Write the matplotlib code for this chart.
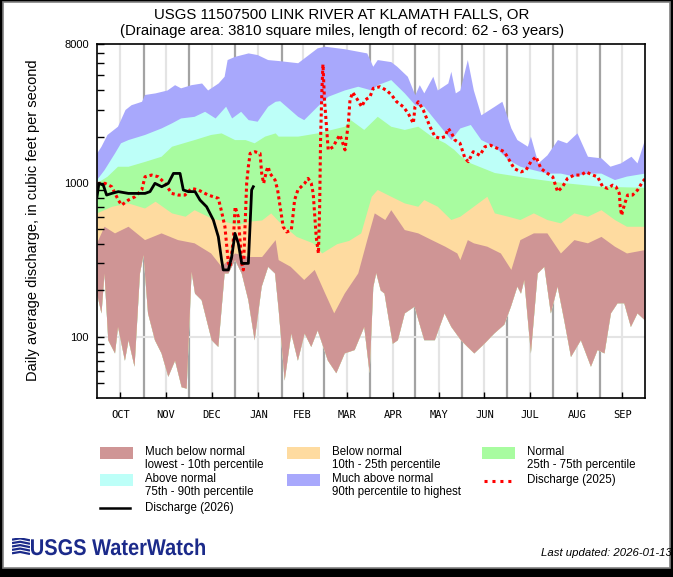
import matplotlib
matplotlib.use("Agg")
import matplotlib.pyplot as plt
from matplotlib.patches import Rectangle, PathPatch
from matplotlib.lines import Line2D
from matplotlib.textpath import TextPath
from matplotlib.font_manager import FontProperties
from matplotlib.transforms import Affine2D
from matplotlib.ticker import FixedLocator, NullFormatter
import numpy as np

plt.rcParams["font.family"] = ["Liberation Sans", "DejaVu Sans"]

# day of water year (0 = Oct 1) and daily discharge percentiles, cfs
max_days = [0, 3, 7, 14, 19, 23, 30, 32, 39, 47, 52, 56, 63, 70, 74, 81, 85, 87, 92, 101,
            107, 114, 121, 134, 147, 152, 165, 180, 184, 187, 196, 200, 207, 212, 215, 218, 224, 227, 234, 236,
            239, 242, 247, 251, 256, 265, 270, 276, 280, 287, 289, 294, 300, 307, 313, 320, 327, 336, 342, 349,
            356, 360, 365]
max_cfs = [1550, 1720, 2050, 2320, 2980, 3200, 3370, 3730, 3820, 3990, 4320, 4120, 4320, 4430, 3990, 4430, 4900, 6290, 6600, 6950,
           6780, 6290, 6200, 6000, 7500, 7680, 7400, 6950, 5690, 6290, 6100, 5690, 4900, 3720, 4320, 3820, 4900, 3990, 4430, 5280,
           3820, 3990, 6290, 3990, 2750, 3130, 3370, 2260, 1900, 1720, 2000, 1340, 1510, 1900, 1810, 2100, 1480, 1445, 1275, 1340,
           1480, 1340, 1900]

p90_days = [0, 5, 12, 16, 21, 32, 43, 50, 56, 65, 72, 79, 86, 90, 96, 101, 107, 114, 119, 122,
            134, 138, 147, 154, 165, 174, 183, 187, 196, 205, 212, 218, 227, 236, 242, 249, 256, 265, 274, 282,
            291, 300, 309, 318, 327, 336, 345, 353, 365]
p90_cfs = [1044, 1210, 1556, 1810, 1900, 2050, 2260, 2440, 2625, 2690, 2900, 2625, 3130, 2625, 2900, 2560, 2500, 3130, 3370, 3400,
           2690, 2560, 3130, 3630, 3990, 4220, 3990, 4320, 4660, 3820, 3200, 3130, 2440, 1900, 2260, 2380, 1900, 1720, 1410, 1275,
           1210, 1150, 1150, 1100, 1150, 1150, 1044, 1100, 1150]

p75_days = [0, 7, 14, 21, 32, 43, 50, 61, 65, 76, 83, 92, 99, 105, 112, 119, 121, 134, 147, 165,
            169, 178, 187, 196, 205, 214, 223, 232, 238, 242, 249, 265, 288, 310, 335, 365]
p75_cfs = [994, 1097, 1274, 1274, 1370, 1480, 1719, 1850, 1899, 2050, 2099, 1899, 1899, 1810, 2000, 2099, 2000, 2000, 2099, 2319,
           2562, 2210, 2690, 2319, 2210, 2319, 2000, 1810, 1640, 1500, 1340, 1160, 1070, 1000, 945, 930]

p25_days = [0, 10, 21, 32, 39, 50, 59, 65, 76, 85, 94, 101, 110, 116, 122, 133, 144, 150, 160, 168,
            176, 183, 187, 196, 205, 214, 218, 227, 236, 242, 251, 260, 265, 274, 282, 291, 300, 309, 318, 327,
            336, 345, 353, 365]
p25_cfs = [634, 700, 736, 682, 755, 634, 603, 665, 590, 560, 530, 560, 570, 634, 550, 446, 405, 348, 400, 420,
           470, 813, 900, 813, 736, 700, 774, 700, 574, 603, 700, 813, 634, 603, 574, 634, 574, 546, 634, 603,
           665, 574, 519, 519]

p10_days = [0, 5, 12, 21, 32, 43, 54, 65, 76, 83, 92, 101, 110, 119, 121, 129, 138, 145, 152, 158,
            165, 174, 180, 185, 192, 196, 205, 214, 223, 232, 240, 242, 247, 251, 260, 269, 276, 282, 291, 300,
            309, 318, 327, 336, 345, 353, 365]
p10_cfs = [405, 519, 470, 519, 425, 470, 425, 405, 348, 285, 348, 330, 330, 425, 315, 285, 234, 272, 191, 142,
           191, 258, 425, 634, 574, 665, 494, 470, 425, 385, 348, 315, 425, 405, 385, 348, 272, 425, 470, 470,
           348, 425, 405, 446, 385, 348, 366]

min_days = [0, 3, 5, 7.5, 12, 14, 18.6, 21, 25, 28.6, 31, 34, 38.6, 43, 47.5, 52, 56.4, 59.7, 63, 65.3,
            69.7, 76.4, 80.8, 85, 87.5, 92, 96.4, 100.8, 105, 109.7, 114, 118.6, 121, 125, 129.4, 133.8, 138.3, 142.7, 147, 153.8,
            159.4, 165, 171.6, 178, 181.6, 184, 186, 189, 191.5, 197, 200.4, 205, 211.5, 218, 225, 231.5, 236, 242.4, 246.8, 251.3,
            258, 264.6, 271.3, 275.7, 280, 282.4, 284.6, 289, 293.5, 298, 302.3, 306.8, 311.2, 315.7, 322.3, 329, 333.4, 338, 342.3, 346.7,
            351.2, 355.6, 360, 365]
min_cfs = [191, 142, 258, 95, 78, 116, 70, 95, 64, 258, 340, 142, 95, 78, 55, 70, 47, 46, 265, 191,
           173, 95, 86, 258, 258, 315, 258, 173, 95, 212, 285, 258, 150, 52, 105, 70, 105, 86, 110, 70,
           58, 78, 82, 116, 58, 210, 260, 200, 191, 90, 95, 142, 157, 95, 95, 142, 116, 95, 86, 78,
           90, 105, 120, 157, 212, 191, 234, 78, 258, 285, 142, 212, 128, 74, 95, 64, 82, 78, 142, 165,
           165, 116, 142, 128]

# discharge, water year 2025 (dotted) and 2026 to date (solid)
q2025_days = [0.4, 5.3, 9.8, 14.2, 16.4, 20.9, 25.3, 29.8, 32, 36.4, 40.8, 43.1, 45.3, 49.7, 54.2, 58.6, 63, 67.5, 74.1, 80.8,
              83, 85.2, 87.5, 88.6, 90.8, 92, 94.1, 96.4, 97.5, 98.6, 99.7, 100.8, 102, 105.2, 108.6, 109.7, 111, 113, 114, 115.2,
              118.6, 120.3, 122, 124, 126.3, 129.4, 130.7, 131.6, 133.8, 138.3, 140.6, 142.7, 144, 144.9, 146, 147.5, 148.3, 148.9, 149.8, 150.5,
              151.5, 152.5, 154, 157.4, 159.6, 161.8, 163, 165.2, 166.3, 167.4, 168.5, 170.3, 173, 176.3, 178.5, 181.8, 184, 188.5, 193, 196.3,
              199.6, 204, 207.3, 210.7, 211.8, 214, 217.3, 219.6, 221.8, 225.1, 228.4, 231.8, 234, 236.2, 238.4, 241.8, 245.1, 247.3, 250.6, 255,
              258.4, 262, 266.5, 271.3, 274.6, 277.9, 282.4, 285.7, 289, 292.4, 295.7, 300.1, 303.5, 305.7, 306.8, 310.1, 313.4, 317.9, 322.3, 325.7,
              330.1, 333.4, 336.8, 340.1, 343.4, 345.6, 347.9, 348.5, 349.4, 351.2, 353.4, 356.7, 360.1, 363.4, 365]
q2025_cfs = [994, 994, 945, 774, 718, 774, 813, 900, 1097, 1125, 1097, 1044, 994, 855, 834, 834, 922, 900, 834, 794,
             650, 519, 300, 285, 425, 700, 603, 300, 272, 519, 1000, 1274, 1556, 1595, 1556, 1153, 994, 1210, 1274, 1153,
             1044, 900, 700, 519, 480, 494, 634, 774, 900, 994, 1070, 994, 855, 634, 447, 348, 700, 1899, 3990, 5900,
             3500, 2600, 1640, 1719, 1899, 2050, 1899, 1640, 2000, 2440, 3456, 3880, 3540, 3128, 3456, 3630, 4120, 4219, 3990, 3720,
             3370, 3128, 2831, 2440, 3128, 3370, 2980, 2625, 2319, 2000, 1950, 2000, 2260, 2099, 1899, 1810, 1445, 1375, 1595, 1510,
             1719, 1760, 1680, 1595, 1408, 1240, 1180, 1210, 1375, 1480, 1240, 1153, 1097, 945, 878, 945, 1070, 1125, 1125, 1180,
             1125, 1097, 945, 922, 967, 945, 855, 700, 616, 718, 834, 834, 900, 1020, 1060]

q2026_days = [0, 1.3, 4.2, 6.4, 9.8, 14.2, 20.9, 27.5, 32, 35.3, 38.6, 43.1, 47.5, 50.9, 55.3, 57.5, 60.8, 65.3, 68.6, 73,
              77.5, 80.8, 83, 84.1, 87.5, 89.7, 91.9, 94.1, 96.4, 100.8, 101.9, 103, 104.1]
q2026_cfs = [813, 994, 967, 834, 855, 878, 855, 855, 855, 878, 994, 945, 994, 1153, 1153, 900, 878, 878, 774, 700,
             574, 447, 315, 272, 272, 330, 470, 405, 300, 300, 519, 900, 945]

month_names = ["OCT", "NOV", "DEC", "JAN", "FEB", "MAR", "APR", "MAY", "JUN", "JUL", "AUG", "SEP"]
month_len = [31, 30, 31, 31, 28, 31, 30, 31, 30, 31, 31, 30]

W, H = 673, 577


def fx(x):
    return x / W


def fy(y):
    return 1 - y / H


fig = plt.figure(figsize=(W / 100, H / 100), dpi=100, facecolor="black")
fig.patches.append(Rectangle((fx(3), fy(568)), (670 - 3) / W, (568 - 2) / H, transform=fig.transFigure,
                             facecolor="white", edgecolor="#808080", lw=1.2, zorder=-10))

ax = fig.add_axes([fx(97), fy(398), (645 - 97) / W, (398 - 44) / H])
ax.set_zorder(2)
ax.set_facecolor("white")

edges = np.concatenate([[0], np.cumsum(month_len)])
mids = (edges[:-1] + edges[1:]) / 2
for b in edges[1:-1]:
    ax.axvline(b, color="#a3a3a3", lw=1.6, zorder=0)
for m in mids:
    ax.axvline(m, color="#e4e4e4", lw=1.6, zorder=0)
for h in [100, 1000]:
    ax.axhline(h, color="#e4e4e4", lw=1.5, zorder=0)

# each band is filled from its upper percentile down to the record minimum
bands = [
    (max_days, max_cfs, "#a8a8fc"),
    (p90_days, p90_cfs, "#bdfff8"),
    (p75_days, p75_cfs, "#a8fca0"),
    (p25_days, p25_cfs, "#fedba0"),
    (p10_days, p10_cfs, "#cf9595"),
]
for d, v, c in bands:
    xs = np.concatenate([d, min_days[::-1]])
    ys = np.concatenate([v, min_cfs[::-1]])
    ax.fill(xs, ys, color=c, lw=0, zorder=1)

ax.plot(q2025_days, q2025_cfs, color="red", lw=2.2, linestyle=(0, (1, 1.0)),
        dash_capstyle="butt", zorder=3)
ax.plot(q2026_days, q2026_cfs, color="black", lw=2.0, zorder=4)

ax.set_yscale("log")
ax.set_ylim(40, 8000)
ax.set_xlim(0, 365)
ax.set_yticks([100, 1000, 8000])
ax.set_yticklabels(["100", "1000", "8000"])
minor = [v * s for s in (10, 100, 1000) for v in range(2, 10) if 40 < v * s < 8000]
minor = [m for m in minor if m not in (100, 1000)]
ax.yaxis.set_minor_locator(FixedLocator(minor))
ax.yaxis.set_minor_formatter(NullFormatter())
ax.tick_params(axis="y", which="both", direction="in", length=5, width=1, labelsize=8, pad=6)
ax.set_xticks(mids)
ax.set_xticklabels(month_names, fontfamily="DejaVu Sans Mono", fontsize=7.5)
ax.tick_params(axis="x", which="both", direction="in", length=4, width=1, pad=9)
ax.xaxis.set_minor_locator(FixedLocator([]))
for s in ax.spines.values():
    s.set_linewidth(1.2)
    s.set_zorder(5)

fig.text(fx(342), fy(15), "USGS 11507500 LINK RIVER AT KLAMATH FALLS, OR",
         ha="center", va="center", fontsize=10.8)
fig.text(fx(342), fy(31), "(Drainage area: 3810 square miles, length of record: 62 - 63 years)",
         ha="center", va="center", fontsize=10.8)
fig.text(fx(33), fy(220), "Daily average discharge, in cubic feet per second",
         rotation=90, ha="center", va="center", fontsize=10.5)

# legend
legend_items = [
    (100, 447, "#cf9595", "Much below normal", "lowest - 10th percentile"),
    (287, 447, "#fedba0", "Below normal", "10th - 25th percentile"),
    (482, 447, "#a8fca0", "Normal", "25th - 75th percentile"),
    (100, 474, "#bdfff8", "Above normal", "75th - 90th percentile"),
    (287, 474, "#a8a8fc", "Much above normal", "90th percentile to highest"),
]
for x0, y0, c, t1, t2 in legend_items:
    fig.patches.append(Rectangle((fx(x0), fy(y0 + 12)), 33 / W, 12 / H, transform=fig.transFigure,
                                 facecolor=c, edgecolor="none"))
    fig.text(fx(x0 + 45), fy(y0 + 5), t1, ha="left", va="center", fontsize=8.3)
    fig.text(fx(x0 + 45), fy(y0 + 18), t2, ha="left", va="center", fontsize=8.3)

fig.lines.append(Line2D([fx(484), fx(515)], [fy(481), fy(481)], transform=fig.transFigure,
                        color="red", lw=2.2, linestyle=(0, (1, 1.6)), dash_capstyle="butt"))
fig.text(fx(527), fy(480), "Discharge (2025)", ha="left", va="center", fontsize=8.3)
fig.lines.append(Line2D([fx(100), fx(130)], [fy(508), fy(508)], transform=fig.transFigure,
                        color="black", lw=1.8))
fig.text(fx(145), fy(508), "Discharge (2026)", ha="left", va="center", fontsize=8.3)

# USGS WaterWatch mark: condensed bold wordmark built from a text path
navy = "#1b2a8a"
icon = fig.add_axes([fx(12), fy(555), 18 / W, 17 / H])
icon.set_axis_off()
icon.set_xlim(0, 1)
icon.set_ylim(0, 1)
for i in range(5):
    y = 0.1 + i * 0.2
    icon.plot([0, 0.45, 1], [y, y + 0.08, y - 0.04], color=navy, lw=1.6, solid_capstyle="butt")

word = TextPath((0, 0), "USGS WaterWatch", size=20,
                prop=FontProperties(family="Liberation Sans", weight="bold"))
ext = word.get_extents()
sx = 174 / ext.width
sy = 19 / 20 * 1.2
tr = Affine2D().translate(-ext.x0, 0).scale(sx / W, sy / H).translate(fx(31), fy(555)) + fig.transFigure
fig.patches.append(PathPatch(word, transform=tr, facecolor=navy, edgecolor="none"))

fig.text(fx(672), fy(553), "Last updated: 2026-01-13", ha="right", va="center", fontsize=8.2, style="italic")

fig.savefig("out.png", dpi=100, facecolor=fig.get_facecolor())
